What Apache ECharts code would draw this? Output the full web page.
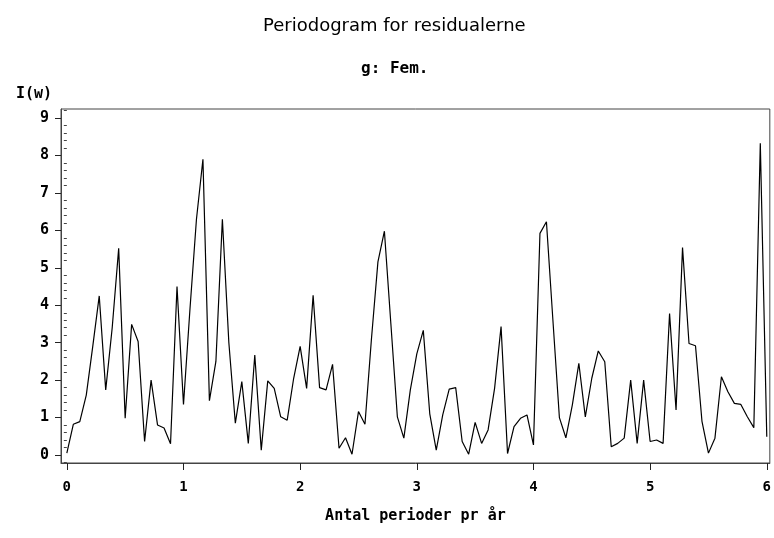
<!DOCTYPE html>
<html>
<head>
<meta charset="utf-8">
<script src="https://cdn.jsdelivr.net/npm/echarts@6/dist/echarts.min.js"></script>
<style>
  html, body { margin: 0; padding: 0; background: #fff; }
  #chart { width: 774px; height: 538px; }
</style>
</head>
<body>
<div id="chart"></div>
<script>
// periodogram ordinates I(w), one per Fourier frequency k/18 (k = 0..108)
const periodogram = [
  0.05, 0.82, 0.89, 1.6, 2.9, 4.25, 1.74, 3.4, 5.52, 0.98,
  3.49, 3.03, 0.36, 2.0, 0.8, 0.72, 0.3, 4.5, 1.35, 3.9,
  6.3, 7.9, 1.45, 2.5, 6.3, 3.0, 0.85, 1.96, 0.31, 2.67,
  0.13, 1.98, 1.78, 1.02, 0.93, 2.05, 2.9, 1.78, 4.27, 1.8,
  1.74, 2.42, 0.18, 0.46, 0.02, 1.16, 0.82, 3.1, 5.16, 5.98,
  3.5, 1.02, 0.45, 1.74, 2.7, 3.33, 1.1, 0.13, 1.07, 1.76,
  1.8, 0.36, 0.02, 0.87, 0.31, 0.67, 1.78, 3.43, 0.04, 0.76,
  0.98, 1.07, 0.27, 5.92, 6.23, 3.6, 1.0, 0.46, 1.34, 2.45,
  1.02, 2.05, 2.78, 2.49, 0.22, 0.31, 0.45, 2.0, 0.31, 2.0,
  0.36, 0.4, 0.31, 3.78, 1.2, 5.54, 2.98, 2.92, 0.9, 0.05,
  0.45, 2.09, 1.69, 1.38, 1.35, 1.02, 0.73, 8.33, 0.49
];
const periodsPerYear = 18; // frequency step = 1/18 per year
const xTicks = [0, 1, 2, 3, 4, 5, 6];
const yTicks = [0, 1, 2, 3, 4, 5, 6, 7, 8, 9];

const points = periodogram.map((v, k) => [k / periodsPerYear, v]);

const yMinor = [];
for (let i = -1; i <= 46; i++) {
  if (i % 5 !== 0) yMinor.push(+(i * 0.2).toFixed(1));
}

const labelFont = "DejaVu Sans Mono";
const myChart = echarts.init(document.getElementById("chart"));

myChart.setOption({
  animation: false,
  backgroundColor: "#fff",
  title: [
    {
      text: "Periodogram for residualerne",
      left: 258,
      top: 12,
      textStyle: {
        fontFamily: "DejaVu Sans",
        fontWeight: "normal",
        fontSize: 18,
        color: "#000",
      },
    },
    {
      text: "g: Fem.",
      left: 356,
      top: 56,
      textStyle: {
        fontFamily: labelFont,
        fontWeight: "bold",
        fontSize: 16,
        color: "#000",
      },
    },
  ],
  grid: {
    left: 61,
    right: 2,
    top: 109,
    bottom: 75,
    show: true,
    borderColor: "#444",
    borderWidth: 1,
  },
  xAxis: {
    type: "value",
    min: -0.05,
    max: 6.026,
    name: "Antal perioder pr år",
    nameLocation: "middle",
    nameGap: 46,
    nameTextStyle: {
      fontFamily: labelFont,
      fontWeight: "bold",
      fontSize: 15,
      color: "#000",
    },
    axisLine: { onZero: false, lineStyle: { color: "#444" } },
    axisTick: {
      show: true,
      length: 7,
      customValues: xTicks,
      lineStyle: { color: "#222" },
    },
    axisLabel: {
      customValues: xTicks,
      margin: 17,
      fontFamily: labelFont,
      fontWeight: "bold",
      fontSize: 14,
      color: "#000",
    },
    splitLine: { show: false },
  },
  yAxis: [
    {
      type: "value",
      position: "left",
      min: -0.214,
      max: 9.244,
      name: "I(w)",
      nameLocation: "end",
      nameGap: 7,
      nameTextStyle: {
        align: "right",
        verticalAlign: "bottom",
        padding: [0, 9, 0, 0],
        fontFamily: labelFont,
        fontWeight: "bold",
        fontSize: 15,
        color: "#000",
      },
      axisLine: { show: true, onZero: false, lineStyle: { color: "#444" } },
      axisTick: {
        show: true,
        length: 6,
        customValues: yTicks,
        lineStyle: { color: "#222" },
      },
      axisLabel: {
        customValues: yTicks,
        margin: 12,
        fontFamily: labelFont,
        fontWeight: "bold",
        fontSize: 15,
        color: "#000",
      },
      splitLine: { show: false },
    },
    {
      type: "value",
      position: "left",
      min: -0.214,
      max: 9.244,
      axisLine: { show: false },
      axisTick: {
        show: true,
        length: 3,
        customValues: yMinor,
        lineStyle: { color: "#444" },
      },
      axisLabel: { show: false },
      splitLine: { show: false },
    },
  ],
  series: [
    {
      type: "line",
      data: points,
      showSymbol: false,
      symbol: "none",
      lineStyle: { color: "#000", width: 1.2 },
    },
  ],
});
</script>
</body>
</html>
